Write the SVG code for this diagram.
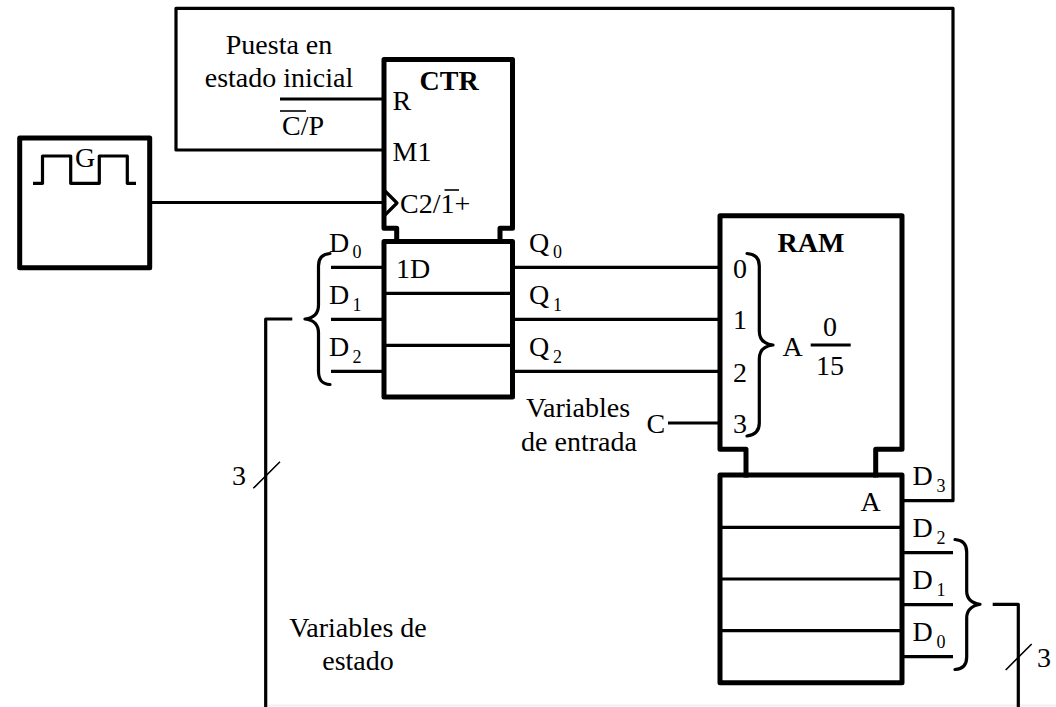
<svg xmlns="http://www.w3.org/2000/svg" width="1056" height="707" viewBox="0 0 1056 707">
<style>
text{font-family:"Liberation Serif","Times New Roman",serif;font-size:28px;fill:#000}
.b{font-weight:bold}
.s{font-size:18px}
.m{text-anchor:middle}
.th{fill:none;stroke:#000;stroke-width:5;stroke-linejoin:round;stroke-linecap:square}
.md{fill:none;stroke:#000;stroke-width:3.2;stroke-linejoin:round}
.w{fill:none;stroke:#000;stroke-width:3.2;stroke-linecap:round;stroke-linejoin:round}
.t{fill:none;stroke:#000;stroke-width:1.6}
</style>
<rect width="1056" height="707" fill="#fff"/>
<path d="M268 705.5H1056" stroke="#f0f0f0" stroke-width="2" fill="none"/>
<g id="connectors">
<path class="md" d="M903 500.7H953V8.3H176V150H384"/>
<path class="md" d="M280 99H384"/>
<path class="md" d="M150 202.5H384"/>
<path class="md" d="M331 267.3H384M331 319.3H384M331 371.3H384"/>
<path class="md" d="M512 267.3H720M512 319.3H720M512 371.3H720M668 423H720"/>
<path class="md" d="M902 552.7H953M902 604.7H953M902 656.7H953"/>
<path class="md" d="M292.3 319H265.7V707"/>
<path class="md" d="M992.7 604.3H1018.3V707"/>
<path class="t" d="M253.3 488.3L280 461.7M1005.7 670L1031.7 644"/>
<path class="w" d="M330 253.5C322 254 318.5 258 318.5 266V305C318.5 313 314 318 305 319C314 320 318.5 325 318.5 333V371C318.5 380 322 384 330 384.5"/>
<path class="w" d="M955 539.5C963 540 966.7 544 966.7 552V591C966.7 599 971 603 980 604.3C971 606 966.7 610 966.7 618V657C966.7 665 963 669 955 669.5"/>
<path class="w" d="M747 253.5C755 254 759.3 258 759.3 266V331C759.3 339 764 344 773 345C764 346 759.3 351 759.3 359V423C759.3 431 755 435 747 436"/>
</g>
<g id="generator">
<rect class="th" x="19.7" y="138" width="130" height="129.7"/>
<path class="md" d="M33 183.3H42.5V156H70.7V183.3H99.3V156H127.3V183.3H136"/>
<text class="m" x="85" y="167">G</text>
</g>
<g id="ctr">
<path class="th" d="M396.7 241V228.3H384V59.5H512.5V228.3H500V241"/>
<path class="md" d="M384 190L397 203L384 216"/>
<text class="b" x="419.5" y="90">CTR</text>
<text x="392.5" y="110">R</text>
<text x="392.5" y="160.5">M1</text>
<text x="400" y="212.5">C2/1+</text>
<path class="t" d="M444.5 190H459"/>
</g>
<g id="ctr-register">
<rect class="th" x="384" y="241.5" width="128.5" height="155.5"/>
<path class="md" d="M384 293.3H512M384 345.3H512"/>
<text x="396" y="278">1D</text>
</g>
<g id="ram">
<path class="th" d="M746 475V449.3H720V215.7H902V449.3H875.7V475"/>
<text class="b m" x="811" y="252">RAM</text>
<text x="733" y="277.5">0</text>
<text x="733" y="329">1</text>
<text x="733" y="381.5">2</text>
<text x="733" y="433">3</text>
<text x="782.5" y="356">A</text>
<text class="m" x="830" y="336">0</text>
<path class="md" d="M810.7 345H850.7"/>
<text class="m" x="830" y="375">15</text>
</g>
<g id="ram-register">
<rect class="th" x="720" y="475" width="182" height="207.7"/>
<path class="md" d="M720 527.3H902M720 579H902M720 630.7H902"/>
<text x="860.5" y="511">A</text>
</g>
<g id="labels">
<text class="m" x="279" y="53.5">Puesta en</text>
<text class="m" x="279" y="87">estado inicial</text>
<text x="282" y="135">C/P</text>
<path class="t" d="M280 111H306"/>
<text x="329" y="252">D</text><text class="s" x="352.5" y="258">0</text>
<text x="329" y="303.5">D</text><text class="s" x="352.5" y="310.5">1</text>
<text x="329" y="355.5">D</text><text class="s" x="352.5" y="362.5">2</text>
<text x="529" y="252">Q</text><text class="s" x="553" y="258">0</text>
<text x="529" y="303.5">Q</text><text class="s" x="553" y="310.5">1</text>
<text x="529" y="355.5">Q</text><text class="s" x="553" y="362.5">2</text>
<text class="m" x="578" y="417">Variables</text>
<text class="m" x="579" y="451">de entrada</text>
<text x="646.5" y="432.5">C</text>
<text x="232" y="485">3</text>
<text class="m" x="358" y="637">Variables de</text>
<text class="m" x="358" y="670">estado</text>
<text x="912.5" y="485">D</text><text class="s" x="936.5" y="492">3</text>
<text x="912.5" y="537">D</text><text class="s" x="936.5" y="544">2</text>
<text x="912.5" y="589">D</text><text class="s" x="936.5" y="596">1</text>
<text x="912.5" y="641">D</text><text class="s" x="936.5" y="648">0</text>
<text x="1037" y="666.5">3</text>
</g>
</svg>
